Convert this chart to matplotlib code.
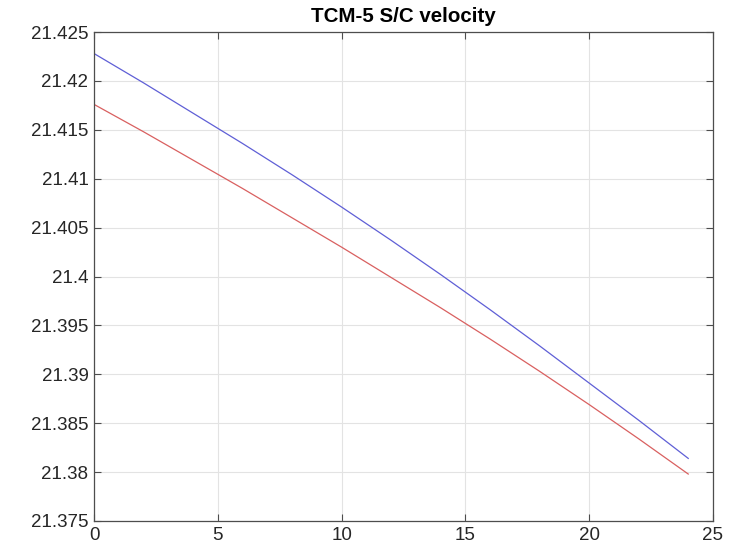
import matplotlib
matplotlib.use("Agg")
import matplotlib.pyplot as plt

# time (h) and S/C velocity (km/s)
hours = [0, 2, 4, 6, 8, 10, 12, 14, 16, 18, 20, 22, 24]
vel_blue = [21.4228, 21.4198, 21.4167, 21.4136, 21.4104, 21.4071, 21.4037,
            21.4002, 21.3966, 21.3929, 21.3891, 21.3853, 21.3814]
vel_red = [21.4176, 21.4148, 21.4119, 21.4090, 21.4060, 21.4030, 21.3999,
           21.3968, 21.3936, 21.3903, 21.3869, 21.3834, 21.3798]

x_ticks = [0, 5, 10, 15, 20, 25]
y_ticks = [21.375, 21.38, 21.385, 21.39, 21.395, 21.4, 21.405, 21.41,
           21.415, 21.42, 21.425]
y_labels = ['21.375', '21.38', '21.385', '21.39', '21.395', '21.4',
            '21.405', '21.41', '21.415', '21.42', '21.425']

plt.rcParams['font.family'] = ['Liberation Sans', 'DejaVu Sans']

fig = plt.figure(figsize=(7.48, 5.53), dpi=100)
ax = fig.add_axes([0.1257, 0.0579, 0.8275, 0.8842])

ax.plot(hours, vel_blue, color='#5f5fd6', linewidth=0.9)
ax.plot(hours, vel_red, color='#d96060', linewidth=0.9)

ax.set_xlim(0, 25)
ax.set_ylim(21.375, 21.425)
ax.set_xticks(x_ticks)
ax.set_xticklabels([str(t) for t in x_ticks])
ax.set_yticks(y_ticks)
ax.set_yticklabels(y_labels)

ax.grid(True, color='#e3e3e3', linewidth=0.8)
ax.set_axisbelow(True)
ax.tick_params(direction='in', top=True, right=True, length=5, width=0.8,
               color='#4d4d4d', labelsize=13.5, labelcolor='#262626', pad=4)
for s in ax.spines.values():
    s.set_color('#4d4d4d')
    s.set_linewidth(0.9)

ax.set_title('TCM-5 S/C velocity', fontsize=14.8, fontweight='bold', pad=7)

fig.savefig('out.png', dpi=100)
